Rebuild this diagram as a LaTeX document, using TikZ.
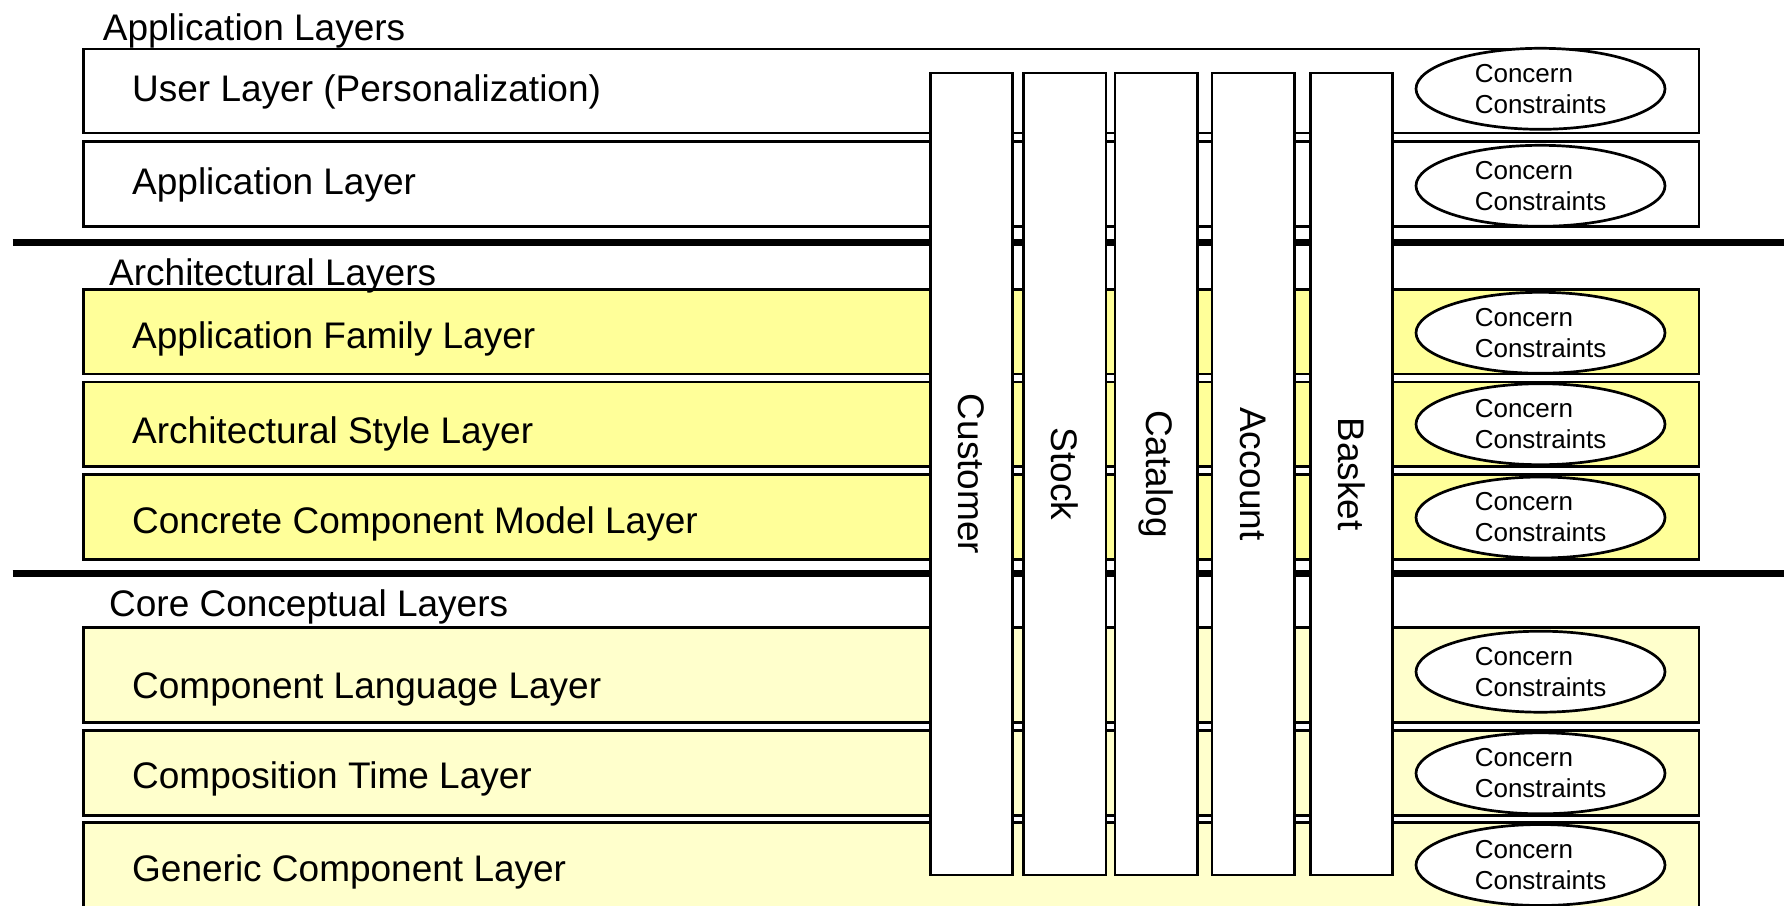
\documentclass[tikz,border=0pt]{standalone}
\usepackage{fontspec}
\setmainfont{Liberation Sans}
\usetikzlibrary{shapes.geometric}
\definecolor{archyellow}{HTML}{FFFF99}
\definecolor{coreyellow}{HTML}{FFFFCC}
\begin{document}
\begin{tikzpicture}[x=1pt,y=-1pt,
  layer/.style={draw=black, line width=2.7pt, anchor=north west, minimum width=1615.5pt, inner sep=0pt, outer sep=0pt},
  sepline/.style={line width=6.7pt, draw=black},
  heading/.style={anchor=base west, inner sep=0pt, font=\fontsize{37}{44}\selectfont},
  laytext/.style={anchor=base west, inner sep=0pt, font=\fontsize{37}{44}\selectfont},
  bar/.style={draw=black, fill=white, line width=2.7pt, rotate=-90, minimum width=802pt, minimum height=82.3pt, inner sep=0pt, font=\fontsize{37}{44}\selectfont},
  concern/.style={ellipse, draw=black, fill=white, line width=2.7pt, minimum width=249pt, minimum height=81pt, inner sep=0pt, align=left, font=\fontsize{26}{31}\selectfont}
]
\useasboundingbox (0,0) rectangle (1784,905);

% layer boxes
\node[layer, fill=white, minimum height=84pt] (ul) at (83.5,49) {};
\node[layer, fill=white, minimum height=85pt] (al) at (83.5,141.5) {};
\node[layer, fill=archyellow, minimum height=84.5pt] (afl) at (83.5,289.5) {};
\node[layer, fill=archyellow, minimum height=84.5pt] (asl) at (83.5,382) {};
\node[layer, fill=archyellow, minimum height=85pt] (ccm) at (83.5,474.5) {};
\node[layer, fill=coreyellow, minimum height=95pt] (cll) at (83.5,627.5) {};
\node[layer, fill=coreyellow, minimum height=85pt] (ctl) at (83.5,730.5) {};
\node[layer, fill=coreyellow, minimum height=85pt] (gcl) at (83.5,822.5) {};

% separators
\coordinate (s1a) at (12.5,242.5);
\coordinate (s1b) at (1795,242.5);
\coordinate (s2a) at (12.5,573.5);
\coordinate (s2b) at (1795,573.5);
\draw[sepline] (s1a) -- (s1b);
\draw[sepline] (s2a) -- (s2b);

% headings
\node[heading] (h1) at (102.7,40) {Application Layers};
\node[heading] (h2) at (109,285) {Architectural Layers};
\node[heading] (h3) at (109,616.7) {Core Conceptual Layers};

% layer labels
\node[laytext] (t1) at (132,101.7) {User Layer (Personalization)};
\node[laytext] (t2) at (132,194.3) {Application Layer};
\node[laytext] (t3) at (132,348.3) {Application Family Layer};
\node[laytext] (t4) at (132,443.3) {Architectural Style Layer};
\node[laytext] (t5) at (132,533.3) {Concrete Component Model Layer};
\node[laytext] (t6) at (132,698.3) {Component Language Layer};
\node[laytext] (t7) at (132,788.3) {Composition Time Layer};
\node[laytext] (t8) at (132,881.7) {Generic Component Layer};

% vertical bars
\node[bar] (customer) at (971.65,474) {Customer};
\node[bar] (stock) at (1064.9,474) {Stock};
\node[bar] (catalog) at (1156.25,474) {Catalog};
\node[bar] (account) at (1253,474) {Account};
\node[bar] (basket) at (1351.65,474) {Basket};

% concern ellipses
\node[concern] (c1) at (1540.5,88.8) {Concern\\Constraints};
\node[concern] (c2) at (1540.5,185.8) {Concern\\Constraints};
\node[concern] (c3) at (1540.5,332.8) {Concern\\Constraints};
\node[concern] (c4) at (1540.5,424.2) {Concern\\Constraints};
\node[concern] (c5) at (1540.5,517.5) {Concern\\Constraints};
\node[concern] (c6) at (1540.5,671.7) {Concern\\Constraints};
\node[concern] (c7) at (1540.5,773.3) {Concern\\Constraints};
\node[concern] (c8) at (1540.5,865) {Concern\\Constraints};
\end{tikzpicture}
\end{document}
